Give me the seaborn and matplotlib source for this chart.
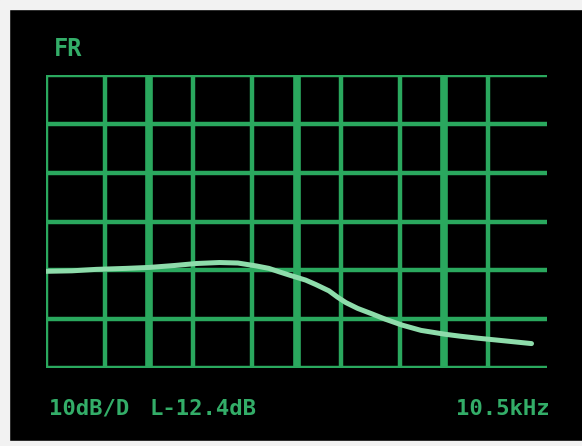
import matplotlib
matplotlib.use("Agg")
import matplotlib.pyplot as plt
import seaborn as sns
import pandas as pd

# frequency response (Hz, dB)
freq_hz = [20, 30, 44, 70, 101, 150, 210, 300, 400, 534, 650, 762, 900, 1154, 1350,
           1660, 1900, 2160, 2600, 3240, 4000, 5180, 7000, 10240, 13000, 17080, 25000, 39260]
level_db = [-0.2, -0.1, 0.2, 0.4, 0.6, 1.0, 1.4, 1.6, 1.5, 0.9, 0.4, -0.3, -1.0, -2.0, -2.9,
            -4.2, -5.5, -6.6, -7.8, -8.9, -10.0, -11.2, -12.3, -13.1, -13.5, -13.9, -14.4, -15.0]

grid_freqs = [20, 50, 100, 200, 500, 1000, 2000, 5000, 10000, 20000]
decade_freqs = [100, 1000, 10000]
grid_levels = [-20, -10, 0, 10, 20, 30, 40]

title_text = "FR"
scale_text = "10dB/D"
marker_text = "L-12.4dB"
freq_text = "10.5kHz"

df = pd.DataFrame({"freq": freq_hz, "level": level_db})

sns.set_style("dark")
plt.rcParams["font.family"] = ["DejaVu Sans Mono", "DejaVu Sans"]

grid_col = "#2aa85e"
trace_col = "#8edcab"
text_col = "#33ad68"

fig = plt.figure(figsize=(5.82, 4.46), dpi=100, facecolor="black")
# white photo margins
fig.patches.append(plt.Rectangle((0, 1 - 9 / 446), 1, 9 / 446, transform=fig.transFigure,
                                 color="#f2f2f2", zorder=0))
fig.patches.append(plt.Rectangle((0, 0), 9 / 582, 1, transform=fig.transFigure,
                                 color="#f2f2f2", zorder=0))
fig.patches.append(plt.Rectangle((0, 0), 1, 5 / 446, transform=fig.transFigure,
                                 color="#f2f2f2", zorder=0))

ax = fig.add_axes([46 / 582, 1 - 368 / 446, 501 / 582, 293 / 446])
ax.set_facecolor("black")
ax.set_xscale("log")
ax.set_xlim(20, 50000)
ax.set_ylim(-20, 40)

for f in grid_freqs:
    lw = 5.5 if f in decade_freqs else 3.2
    ax.axvline(f, color=grid_col, lw=lw, zorder=1)
for lv in grid_levels:
    ax.axhline(lv, color=grid_col, lw=3.2, zorder=1)

sns.lineplot(data=df, x="freq", y="level", ax=ax, color=trace_col, lw=3.6, zorder=3)

ax.set_xticks([])
ax.set_yticks([])
ax.set_xlabel("")
ax.set_ylabel("")
for s in ax.spines.values():
    s.set_visible(False)
ax.grid(False)

txt = dict(color=text_col, fontweight="bold")
fig.text(54 / 582, 1 - 56 / 446, title_text, fontsize=17, **txt)
fig.text(49 / 582, 1 - 415 / 446, scale_text, fontsize=16, **txt)
fig.text(149 / 582, 1 - 415 / 446, marker_text, fontsize=16, **txt)
fig.text(456 / 582, 1 - 415 / 446, freq_text, fontsize=16, **txt)

fig.savefig("out.png", dpi=100, facecolor="black")
